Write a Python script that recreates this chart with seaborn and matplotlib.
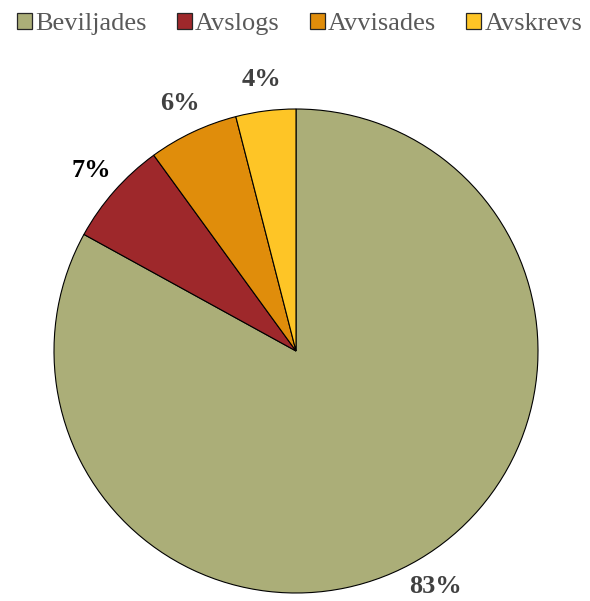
""" Pie chart of decisions """

import matplotlib.pyplot as plt
import seaborn as sns
from matplotlib.patches import Patch

# data
categories = ["Beviljades", "Avslogs", "Avvisades", "Avskrevs"]
shares = [83, 7, 6, 4]
slice_colors = ["#ABAE78", "#9E282B", "#E08D0B", "#FEC526"]
label_colors = ["#404040", "#000000", "#404040", "#404040"]

sns.set_theme(style="white")
plt.rcParams["font.family"] = ["Liberation Serif", "DejaVu Serif"]

fig = plt.figure(figsize=(5.9, 6.01), dpi=100)
# axes sized so the pie sits where it does in the reference
ax = fig.add_axes([54 / 590, 8 / 601, 484 / 590, 484 / 601])

wedges, texts, autotexts = ax.pie(
    shares,
    colors=slice_colors,
    startangle=90,
    counterclock=False,
    autopct="%d%%",
    pctdistance=1.13,
    wedgeprops={"edgecolor": "black", "linewidth": 0.8},
    textprops={"fontsize": 19, "fontweight": "bold"},
)
for text, color in zip(autotexts, label_colors):
    text.set_color(color)
    text.set_clip_on(False)

ax.set_xlim(-1, 1)
ax.set_ylim(-1, 1)
ax.set_aspect("equal")

# legend across the top
handles = [Patch(facecolor=c, edgecolor="#262626", linewidth=0.9) for c in slice_colors]
fig.legend(
    handles,
    categories,
    loc="upper center",
    bbox_to_anchor=(0.508, 1.018),
    ncol=4,
    frameon=False,
    fontsize=19,
    labelcolor="#595959",
    handlelength=0.57,
    handleheight=0.57,
    handletextpad=0.12,
    columnspacing=1.14,
)

fig.savefig("out.png", dpi=100)
